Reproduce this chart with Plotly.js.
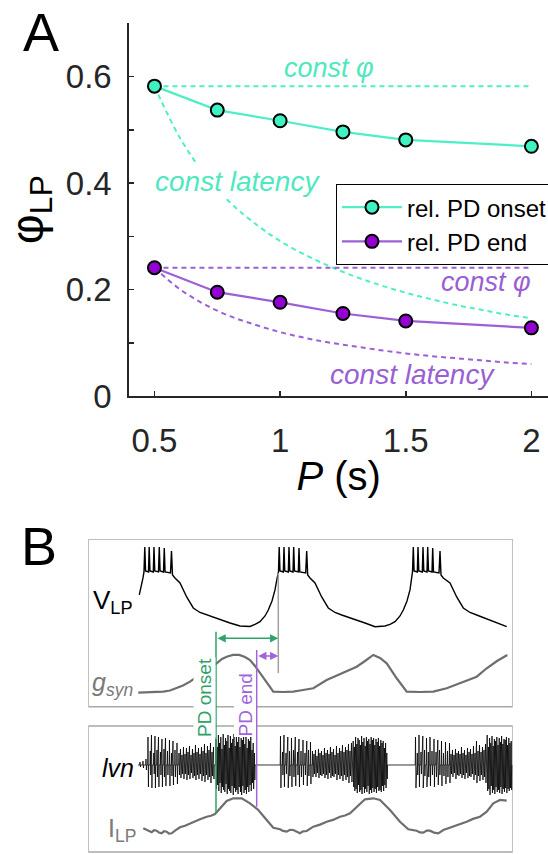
<!DOCTYPE html>
<html>
<head>
<meta charset="utf-8">
<script src="https://cdn.plot.ly/plotly-3.0.1.min.js"></script>
<style>html,body{margin:0;padding:0;background:#fff;}#chart{width:548px;height:854px;}</style>
</head>
<body>
<div id="chart"></div>
<script>
// ---------- Panel A data ----------
const periods = [0.5, 0.75, 1, 1.25, 1.5, 2];
const phaseOnset = [0.582, 0.537, 0.517, 0.496, 0.481, 0.469];
const phaseEnd = [0.241, 0.195, 0.176, 0.155, 0.141, 0.128];
const constPhiP = [0.5, 2];
const constPhiOnset = [0.582, 0.582];
const constPhiEnd = [0.241, 0.241];
const latP = [0.5, 0.6, 0.7, 0.8, 0.9, 1.0, 1.1, 1.2, 1.3, 1.4, 1.5, 1.6, 1.7, 1.8, 1.9, 2.0];
const constLatOnset = [0.582, 0.486, 0.416, 0.364, 0.324, 0.291, 0.265, 0.243, 0.224, 0.208, 0.194, 0.182, 0.171, 0.162, 0.153, 0.146];
const constLatEnd = [0.241, 0.201, 0.172, 0.150, 0.134, 0.120, 0.109, 0.100, 0.093, 0.086, 0.080, 0.075, 0.071, 0.067, 0.063, 0.060];
const yTickVals = [0, 0.1, 0.2, 0.3, 0.4, 0.5, 0.6];
const yTickText = ['0', '', '0.2', '', '0.4', '', '0.6'];
const xTickVals = [0.5, 1, 1.5, 2];
const xTickText = ['0.5', '1', '1.5', '2'];

// ---------- Panel B data (time units, height units) ----------
const vT = [139.3,141,143,144,144.8,145.6,148.5,149.2,150,153.3,154,154.8,158.5,159.3,160.1,163.5,164.3,165.1,170.5,171.5,172.5,175,180,186.7,193.3,200,206.7,213,220,230,240,250,255,260,265,268.3,272,275,277,278.5,
  279.2,280,283.3,284,284.8,288.3,289,289.8,293,293.7,294.5,298.3,299,299.8,305.7,306.7,307.7,310,315,321.7,328.3,335,341.7,348,355,365,375,385,390,395,400,403.3,407,410,411.5,412.5,
  413.3,414.1,417.3,418,418.8,422.3,423,423.8,427,427.7,428.5,432,432.7,433.5,439,440,441,443.3,450,456.7,463.3,470,476.7,483,490,498,506.7];
const vLP = [259,266,276,282,307,283,282,307,283,282,307,283,282,307,283,282,306,282,281,303,279,276,271,257,246,241.5,239,237,234.7,231,228,227.5,229.5,232.3,238,244,253,264,275,282,
  307,283,282,307,283,282,307,283,282,307,283,282,306,282,281,303,279,276,271,257,246,241.5,239,237,234.7,231,227.3,228,229.5,232.3,238,244,253,264,275,282,
  307,283,282,307,283,282,307,283,282,307,283,282,306,282,281,303,279,276,271,257,246,241.5,239,236.5,234,231,227.3];

const gT = [138.3,150,163.3,170,176.7,183,190,200,208,216.7,222,226.7,233,239.3,245,250,255,260,266.7,273.3,283,293.3,303,313.3,326.7,336,346.7,356.7,365,373.3,380,386.7,396.7,406.7,420,433.3,446.7,460,470,476.7,486.7,497,507.3];
const gSyn = [161.3,161.5,162.3,163.5,165.7,168.5,172.3,179,185,190.7,195,197.3,199,199,197,194,188,180.7,170.7,162.3,162,162.3,164,165.7,174,178,182.3,187.3,193,199,196,190.7,175.7,162.3,162,162.3,165.7,171,175,177.3,185.7,193,199];

const iT = [143.3,146.7,149,151.7,154,156.7,159,161.7,164,166.7,169,171.7,175,180,185,190,195,200,206.7,211,215,220,226.7,233.3,241.7,250,258.3,266.7,273.3,280,283,286.7,290,293.3,296.7,300,303,306.7,313.3,320,326.7,333,340,345,350,356.7,365,373.3,380,390,400,408.3,412,416.7,420,423.3,426.7,430,434,438.3,443.3,453.3,460,466.7,473,480,486.7,493.3,500,506.7];
const iLP = [25.7,24,22.8,21.7,23.8,23.3,21.5,20.7,22.9,22.3,20.4,20.7,23.3,26.7,28.3,30.7,33,34.7,37.3,38.2,40,45.7,53,55.7,55.7,50.7,44,34,26.3,24.7,23.1,22.3,24.2,24,21.9,20.7,22.6,23,27.3,29.4,32.3,34.1,37.3,38.5,40.7,47.3,54.7,55.7,54,44,32.3,24.7,23.9,23.3,21.6,21.3,23.4,23.3,21.4,20.7,24,27.3,29.8,32.3,35.1,37.3,42.3,50.7,54,53.3];

const lvnBase = 89;
const lvnStart = 138, lvnEnd = 512;
const spikeT = [140,143,146,
  148,150.3,151.5,153.8,155,157,158.5,160.5,162,164,165.5,167.5,169.5,171.5,173,175,177,
  179,180.5,182,183.5,185,186.5,188,189.5,191,192.5,194,195.5,197,198.5,200,201.5,203,204.5,206,207.5,209,210.5,212,213.5,
  216,217.2,218.4,219.6,220.8,222,223.2,224.4,225.6,226.8,228,229.2,230.4,231.6,232.8,234,235.2,236.4,237.6,238.8,240,241.2,242.4,243.6,244.8,246,247.2,248.4,249.6,250.8,252,253.2,254.4,
  280.5,282.5,284,286,287.8,289.5,291.5,293.5,295.3,297.5,299,301,303,305,306.8,308.5,310.5,312.5,
  314,315.5,317,318.5,320,321.5,323,324.5,326,327.5,329,330.5,332,333.5,335,336.5,338,339.5,341,342.5,344,345.5,347,348.5,350,351.5,
  353.2,354.4,355.6,356.8,358,359.2,360.4,361.6,362.8,364,365.2,366.4,367.6,368.8,370,371.2,372.4,373.6,374.8,376,377.2,378.4,379.6,380.8,382,383.2,384.4,385.6,386.8,
  415.5,417.3,419,421,422.8,424.5,426.5,428.3,430,432,434,436,437.8,439.5,441.5,443.5,445.5,447.5,449.5,
  451,452.5,454,455.5,457,458.5,460,461.5,463,464.5,466,467.5,469,470.5,472,473.5,475,476.5,478,479.5,481,482.5,484,485.5,
  487.2,488.4,489.6,490.8,492,493.2,494.4,495.6,496.8,498,499.2,500.4,501.6,502.8,504,505.2,506.4,507.6,508.8,510,511.2];
const spikeUp = [3,4,6,
  28,14,30,12,29,15,28,13,26,16,27,14,25,12,24,15,22,
  12,16,10,18,11,17,13,19,10,16,12,20,13,17,11,18,14,21,12,19,15,22,13,18,
  26,18,30,22,28,16,31,20,27,24,30,17,29,22,26,31,19,28,23,30,18,27,25,29,21,28,17,26,24,29,15,22,12,
  29,13,30,12,28,14,27,15,28,13,26,14,25,12,24,15,23,14,
  11,15,9,16,12,14,10,17,12,15,11,18,13,16,10,19,12,17,14,20,13,18,15,21,14,22,
  24,18,28,21,27,25,20,29,23,27,19,28,24,26,21,28,25,27,20,26,23,27,19,25,22,24,17,22,12,
  28,12,30,13,29,15,27,13,28,14,26,13,25,15,24,12,23,14,22,
  11,15,10,16,12,14,11,18,12,15,10,17,13,16,11,19,12,24,14,20,13,18,15,21,
  30,18,27,22,29,19,26,24,28,20,27,23,29,21,26,25,28,20,27,22,24];
const spikeDown = [2,3,5,
  22,10,23,9,23,12,22,10,22,12,21,10,21,11,20,12,19,
  10,13,9,14,9,15,10,14,8,13,11,15,10,14,9,16,11,17,10,15,12,18,11,14,
  24,20,26,18,28,22,25,27,19,29,24,26,28,21,30,23,27,25,29,22,27,30,21,28,25,29,22,27,20,26,18,24,15,
  23,10,22,9,23,11,22,12,21,10,22,12,20,10,21,11,19,12,
  9,12,8,13,10,11,9,13,10,14,8,13,11,12,9,15,10,14,11,16,10,15,12,18,11,17,
  22,26,24,28,20,27,25,29,22,28,24,27,21,29,25,28,23,27,24,28,22,26,25,27,21,26,20,23,14,
  23,10,22,9,23,11,22,12,21,10,22,12,20,10,21,11,19,12,18,
  9,12,8,14,10,11,9,13,10,14,8,13,11,12,9,15,10,18,11,16,10,15,12,18,
  26,24,30,21,28,25,29,22,27,25,28,22,29,24,27,23,28,24,26,23,25];

const onsetMarkT = 216, endMarkT = 256.7, burstStartT = 278.3;

// ---------- styles ----------
const FONT = 'Liberation Sans, Arial, Helvetica, sans-serif';
const CYAN_LINE = '#4fefc6', CYAN_MK = '#3ff2c2', CYAN_TXT = '#4fe8c0';
const PURP_LINE = '#9c5fd6', PURP_MK = '#9400d3', PURP_TXT = '#9a5fd4';
const GREEN = '#2ea267', PURP_B = '#a064dc';
const GRAY_TR = '#6e6e6e', BOX = '#a8a8a8';

// build lvn trace path from spike table
const lvnX = [lvnStart], lvnY = [lvnBase];
for (let i = 0; i < spikeT.length; i++) {
  const t = spikeT[i];
  lvnX.push(t - 0.3, t, t + 0.45, t + 0.75);
  lvnY.push(lvnBase, lvnBase + spikeUp[i], lvnBase - spikeDown[i], lvnBase);
}
lvnX.push(lvnEnd); lvnY.push(lvnBase);

const dash = '5px,4px';
const traces = [
  {x: constPhiP, y: constPhiOnset, mode: 'lines', line: {color: CYAN_LINE, width: 2, dash: dash}, showlegend: false, hoverinfo: 'skip'},
  {x: latP, y: constLatOnset, mode: 'lines', line: {color: CYAN_LINE, width: 2, dash: dash, shape: 'spline'}, showlegend: false, hoverinfo: 'skip'},
  {x: constPhiP, y: constPhiEnd, mode: 'lines', line: {color: PURP_LINE, width: 2, dash: dash}, showlegend: false, hoverinfo: 'skip'},
  {x: latP, y: constLatEnd, mode: 'lines', line: {color: PURP_LINE, width: 2, dash: dash, shape: 'spline'}, showlegend: false, hoverinfo: 'skip'},
  {x: periods, y: phaseOnset, name: 'rel. PD onset', mode: 'lines+markers', line: {color: CYAN_LINE, width: 2.2},
   marker: {color: CYAN_MK, size: 13, line: {color: '#000', width: 2}}},
  {x: periods, y: phaseEnd, name: 'rel. PD end', mode: 'lines+markers', line: {color: PURP_LINE, width: 2.2},
   marker: {color: PURP_MK, size: 13, line: {color: '#000', width: 2}}},
  // panel B
  {x: vT, y: vLP, xaxis: 'x2', yaxis: 'y2', mode: 'lines', line: {color: '#000', width: 1.4}, showlegend: false, hoverinfo: 'skip'},
  {x: gT, y: gSyn, xaxis: 'x2', yaxis: 'y2', mode: 'lines', line: {color: GRAY_TR, width: 2.2}, showlegend: false, hoverinfo: 'skip'},
  {x: lvnX, y: lvnY, xaxis: 'x2', yaxis: 'y2', mode: 'lines', line: {color: '#000', width: 0.8}, showlegend: false, hoverinfo: 'skip'},
  {x: iT, y: iLP, xaxis: 'x2', yaxis: 'y2', mode: 'lines', line: {color: GRAY_TR, width: 2.2}, showlegend: false, hoverinfo: 'skip'}
];

const axA = {color: '#262626', linecolor: '#262626', linewidth: 2, showgrid: false, zeroline: false,
  ticks: 'inside', ticklen: 5, tickwidth: 1.5, tickcolor: '#262626', showline: true,
  tickfont: {family: FONT, size: 33, color: '#262626'}};

const layout = {
  width: 548, height: 854,
  margin: {l: 0, r: 0, t: 0, b: 0, autoexpand: false},
  paper_bgcolor: '#fff', plot_bgcolor: 'rgba(0,0,0,0)',
  font: {family: FONT},
  showlegend: true,
  legend: {x: 0.6131, y: 0.7845, xanchor: 'left', yanchor: 'top', bgcolor: '#fff', bordercolor: '#000', borderwidth: 1,
    font: {family: FONT, size: 24, color: '#000'}, itemwidth: 60, tracegroupgap: 0},
  xaxis: Object.assign({}, axA, {domain: [0.236, 1], range: [0.4, 2.066], anchor: 'y',
    tickmode: 'array', tickvals: xTickVals, ticktext: xTickText, ticklabelstandoff: 14,
    title: {text: '<i>P</i> (s)', font: {family: FONT, size: 40, color: '#000'}, standoff: 4}}),
  yaxis: Object.assign({}, axA, {domain: [0.5363, 0.9727], range: [0, 0.7], anchor: 'x',
    tickmode: 'array', tickvals: yTickVals, ticktext: yTickText, ticklabelstandoff: 9,
    title: {text: 'φ<sub>LP</sub>', font: {family: FONT, size: 46, color: '#000'}, standoff: 8}}),
  xaxis2: {domain: [0.1611, 0.9356], range: [88.3, 512.7], visible: false, anchor: 'y2', fixedrange: true},
  yaxis2: {domain: [0, 0.3689], range: [0, 315], visible: false, anchor: 'x2', fixedrange: true},
  shapes: [
    {type: 'rect', xref: 'x2', yref: 'y2', x0: 88.3, x1: 512.7, y0: 147.3, y1: 315, line: {color: BOX, width: 1.5}, layer: 'below'},
    {type: 'rect', xref: 'x2', yref: 'y2', x0: 88.3, x1: 512.7, y0: 2, y1: 128, line: {color: BOX, width: 1.5}, layer: 'below'},
    {type: 'line', xref: 'x2', yref: 'y2', x0: burstStartT, x1: burstStartT, y0: 181, y1: 281, line: {color: '#a0a0a0', width: 1.5}},
    {type: 'line', xref: 'x2', yref: 'y2', x0: onsetMarkT, x1: onsetMarkT, y0: 40.7, y1: 222.3, line: {color: GREEN, width: 1.5}},
    {type: 'line', xref: 'x2', yref: 'y2', x0: endMarkT, x1: endMarkT, y0: 47.3, y1: 204, line: {color: PURP_B, width: 1.5}}
  ],
  annotations: [
    {text: 'A', xref: 'paper', yref: 'paper', x: 0.075, y: 0.9625, xanchor: 'center', yanchor: 'middle', showarrow: false, font: {family: FONT, size: 54, color: '#000'}},
    {text: 'B', xref: 'paper', yref: 'paper', x: 0.071, y: 0.3605, xanchor: 'center', yanchor: 'middle', showarrow: false, font: {family: FONT, size: 54, color: '#000'}},
    {text: '<i>const φ</i>', x: 1.196, y: 0.617, showarrow: false, font: {family: FONT, size: 27, color: CYAN_TXT}},
    {text: '<i>const latency</i>', x: 0.83, y: 0.403, showarrow: false, bgcolor: '#fff', font: {family: FONT, size: 28, color: CYAN_TXT}},
    {text: '<i>const φ</i>', x: 1.819, y: 0.2143, showarrow: false, font: {family: FONT, size: 27, color: PURP_TXT}},
    {text: '<i>const latency</i>', x: 1.527, y: 0.041, showarrow: false, font: {family: FONT, size: 28, color: PURP_TXT}},
    // panel B labels
    {text: 'V<sub>LP</sub>', xref: 'x2', yref: 'y2', x: 113, y: 252, showarrow: false, font: {family: FONT, size: 26, color: '#000'}},
    {text: '<i>g<sub>syn</sub></i>', xref: 'x2', yref: 'y2', x: 112.5, y: 170, showarrow: false, font: {family: FONT, size: 25, color: '#7a7a7a'}},
    {text: '<i>lvn</i>', xref: 'x2', yref: 'y2', x: 118, y: 86, showarrow: false, font: {family: FONT, size: 25, color: '#000'}},
    {text: 'I<sub>LP</sub>', xref: 'x2', yref: 'y2', x: 122, y: 24, showarrow: false, font: {family: FONT, size: 25, color: '#7a7a7a'}},
    {text: 'PD onset', xref: 'x2', yref: 'y2', x: 205, y: 157, textangle: -90, showarrow: false, bgcolor: '#fff', borderpad: 0,
     font: {family: FONT, size: 19, color: GREEN}},
    {text: 'PD end', xref: 'x2', yref: 'y2', x: 245.5, y: 149, textangle: -90, showarrow: false, bgcolor: '#fff', borderpad: 0,
     font: {family: FONT, size: 19, color: PURP_B}},
    {text: '', xref: 'x2', yref: 'y2', axref: 'x2', ayref: 'y2', x: burstStartT, y: 215.7, ax: onsetMarkT, ay: 215.7,
     showarrow: true, arrowside: 'end+start', arrowhead: 2, startarrowhead: 2, arrowsize: 1.1, startarrowsize: 1.1, arrowwidth: 1.5, arrowcolor: GREEN},
    {text: '', xref: 'x2', yref: 'y2', axref: 'x2', ayref: 'y2', x: burstStartT, y: 198, ax: endMarkT, ay: 198,
     showarrow: true, arrowside: 'end+start', arrowhead: 2, startarrowhead: 2, arrowsize: 1.1, startarrowsize: 1.1, arrowwidth: 1.5, arrowcolor: PURP_B}
  ]
};

Plotly.newPlot('chart', traces, layout, {staticPlot: true, displayModeBar: false});
</script>
</body>
</html>
